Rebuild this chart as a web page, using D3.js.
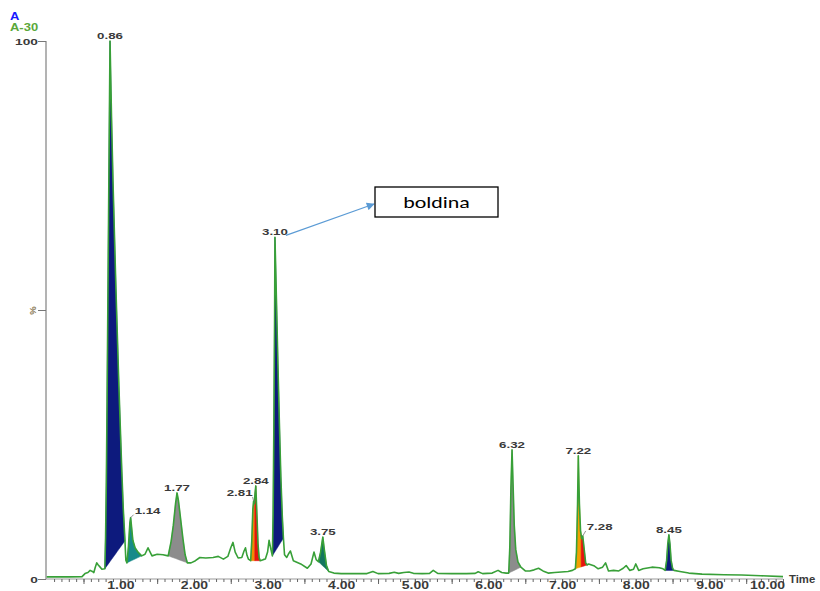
<!DOCTYPE html>
<html><head><meta charset="utf-8">
<script src="https://cdn.jsdelivr.net/npm/d3@7"></script>
<style>body{margin:0;background:#fff;} svg{display:block;font-family:"Liberation Sans",Arial,sans-serif;}</style>
</head><body><svg id="c" width="820" height="591"></svg>
<script>
// ---- data ----
const times = [0.00,0.30,0.48,0.52,0.56,0.59,0.62,0.64,0.66,0.68,0.70,0.72,0.75,0.79,
0.80,0.81,0.82,0.83,0.84,0.85,0.86,0.88,0.90,0.92,0.94,0.96,0.98,1.00,1.02,1.04,1.063,1.075,
1.09,1.11,1.13,1.14,1.15,1.17,1.20,1.24,1.29,1.335,1.376,1.43,1.50,1.58,1.65,
1.69,1.72,1.75,1.77,1.79,1.82,1.85,1.88,1.91,1.96,2.02,2.08,2.16,2.26,2.33,2.40,2.46,2.50,2.53,2.56,2.60,2.65,2.68,2.70,2.72,2.74,2.77,
2.785,2.80,2.81,2.82,2.83,2.84,2.855,2.87,2.885,2.90,2.94,2.97,3.00,3.02,3.045,3.065,
3.075,3.085,3.095,3.10,3.12,3.14,3.16,3.18,3.20,3.215,3.23,3.26,3.29,3.31,3.35,3.45,3.54,3.59,3.63,3.66,3.69,
3.72,3.75,3.77,3.80,3.83,3.90,4.00,4.20,4.35,4.43,4.50,4.65,4.72,4.78,4.85,4.92,4.98,5.10,5.20,5.25,5.31,5.50,5.70,5.82,5.86,5.92,6.05,6.13,6.18,6.24,6.275,
6.29,6.305,6.32,6.335,6.35,6.37,6.40,6.44,6.50,6.56,6.62,6.68,6.74,6.81,6.90,6.99,7.08,7.14,7.18,
7.195,7.21,7.22,7.235,7.25,7.265,7.28,7.30,7.32,7.34,7.36,7.44,7.49,7.55,7.59,7.63,7.70,7.77,7.83,7.87,7.92,7.97,8.00,8.04,8.10,8.22,8.32,8.37,8.40,
8.42,8.435,8.45,8.465,8.48,8.50,8.52,8.60,8.72,8.90,9.20,9.44,9.70,10.00];
const intensities = [0.4,0.4,0.45,1.0,1.2,1.6,1.4,1.2,2.2,3.0,2.6,2.3,1.8,1.9,
8,18,33,50,67,84,100,86,74,64,54,45,36,28,20,13,7.1,3.5,
3.0,6,10.5,11.4,10,7.2,5.8,5.0,4.3,4.6,5.8,4.3,4.6,4.5,4.3,
7,10,14,16.0,14.5,11,7.5,4.5,3.0,3.0,3.4,4.0,3.9,4.0,4.2,3.7,4.2,5.8,6.8,5.0,3.9,4.0,5.2,5.8,4.4,3.7,3.4,
7,13,14.5,14,16,17.3,12,6.5,4,3.4,3.6,3.7,5.0,7.2,5.5,4.3,
12,28,48,63.5,52,40,29,19,11.5,7.6,4.5,4.0,4.8,5.2,3.4,2.8,2.0,2.8,5.0,3.6,3.2,
5,7.8,5.5,2.5,1.4,1.1,1.0,1.0,1.0,1.4,1.0,1.05,1.25,1.05,1.2,1.3,1.05,1.0,1.05,1.6,1.05,1.0,1.0,1.05,1.35,1.0,1.1,1.6,1.2,1.1,1.1,
6,17,24.0,17,10,5.5,3.2,2.2,1.5,1.5,1.7,2.0,1.5,1.1,1.2,1.3,1.4,1.6,1.9,
5,14,22.9,14,9,7.5,8.0,5.5,3.0,2.6,2.8,2.4,1.9,2.2,3.0,1.5,1.6,1.5,2.0,2.5,1.6,1.8,2.8,1.6,1.9,2.2,2.1,1.9,1.6,
3.5,6.5,8.2,6.5,3.5,2.0,1.6,1.4,1.1,0.9,0.8,0.75,0.6,0.45];

const peakLabels = ["0.86","1.14","1.77","2.81","2.84","3.10","3.75","6.32","7.22","7.28","8.45"];
const peakApex   = [0.86,1.14,1.77,2.81,2.84,3.10,3.75,6.32,7.22,7.28,8.45];
const peakStart  = [0.79,1.09,1.65,2.77,2.825,3.065,3.69,6.275,7.18,7.258,8.40];
const peakEnd    = [1.063,1.29,1.91,2.825,2.90,3.215,3.83,6.44,7.258,7.34,8.52];
const baseStart  = [0.79,1.09,1.65,2.77,2.77,3.065,3.69,6.275,7.18,7.18,8.40];
const baseEnd    = [1.063,1.29,1.91,2.90,2.90,3.215,3.83,6.44,7.34,7.34,8.52];
const xTickValues = [1,2,3,4,5,6,7,8,9,10];
const yTickValues = [0,50,100];
const yTickLabels = ["0","%","100"];
const annotationText = "boldina";

// ---- styles ----
const peakColors = ["#0d1a7d","#178a8a","#8c8c8c","#f08c00","#e6140c","#0d1a7d","#13755f","#8c8c8c","#f2a000","#e6140c","#0d1a7d"];

const svg = d3.select("#c");
const x = d3.scaleLinear().domain([0,10]).range([46.7,783]);
const y = d3.scaleLinear().domain([0,100]).range([579,41]);

function val(t){
  let i = d3.bisectLeft(times,t);
  if(i<=0) return intensities[0];
  if(i>=times.length) return intensities[times.length-1];
  if(times[i]===t) return intensities[i];
  const t0=times[i-1],t1=times[i];
  return intensities[i-1]+(intensities[i]-intensities[i-1])*(t-t0)/(t1-t0);
}

// peak fills
const area = d3.area().x(d=>x(d.t)).y0(d=>y(d.b)).y1(d=>y(d.v));
peakLabels.forEach((lab,k)=>{
  const s=peakStart[k], e=peakEnd[k], bs=baseStart[k], be=baseEnd[k];
  const vbs=val(bs), vbe=val(be);
  const base=t=>vbs+(vbe-vbs)*(t-bs)/(be-bs);
  const ts=[s].concat(times.filter(t=>t>s&&t<e)).concat([e]);
  const pts=ts.map(t=>({t, v:val(t), b:base(t)}));
  svg.append("path").attr("d",area(pts)).attr("fill",peakColors[k]).attr("stroke",peakColors[k]).attr("stroke-width",0.5);
});

// axes
const axG = svg.append("g").attr("transform","translate(0,579)");
axG.append("line").attr("x1",46).attr("x2",783).attr("stroke","#9a9a9a").attr("stroke-width",1.2);
const minorAxis = d3.axisBottom(x).tickValues(d3.range(1,100).map(i=>i/10)).tickSize(3).tickFormat("");
const majorAxis = d3.axisBottom(x).tickValues(d3.range(1,21).map(i=>i/2)).tickSize(5).tickFormat("");
const labelAxis = d3.axisBottom(x).tickValues(xTickValues).tickSize(0).tickPadding(3).tickFormat(d3.format(".2f"));
[minorAxis,majorAxis].forEach(a=>{
  const g=axG.append("g").call(a);
  g.select(".domain").remove();
  g.selectAll(".tick line").attr("stroke","#666").attr("stroke-width",1);
});
const lg=axG.append("g").call(labelAxis);
lg.select(".domain").remove();
lg.selectAll(".tick text").attr("font-size",10).attr("font-weight","bold").attr("fill","#3a3a3a")
  .attr("font-family","Liberation Sans, Arial, sans-serif")
  .attr("y",0).attr("dy",9.6).attr("transform","scale(1.4,1)");
// last label kept inside the axis end, as in the reference
lg.selectAll(".tick").filter(d=>d===10).select("text").attr("text-anchor","end").attr("x",1.5/1.4);

const yAxis = d3.axisLeft(y).tickValues(yTickValues).tickSize(8).tickFormat((d,i)=>yTickLabels[i]);
const yg = svg.append("g").attr("transform","translate(46,0)").call(yAxis);
yg.select(".domain").attr("stroke","#9a9a9a").attr("stroke-width",1.5).attr("d","M0,41V579");
yg.selectAll(".tick line").attr("stroke","#777");
yg.selectAll(".tick text").attr("font-size",9.5).attr("font-weight","bold").attr("fill","#3a3a3a")
  .attr("font-family","Liberation Sans, Arial, sans-serif")
  .attr("x",-8/1.45).attr("dy","0.36em").attr("transform","scale(1.45,1)");
yg.selectAll(".tick").filter(d=>d===50).select("text")
  .attr("transform","translate(-13,0) rotate(-90)").attr("x",0).attr("text-anchor","middle").attr("dy","0.35em")
  .attr("font-size",9.5).attr("font-weight","bold").attr("fill","#8a7a55");

// trace
const line = d3.line().x((d,i)=>x(times[i])).y(d=>y(d));
svg.append("path").attr("d",line(intensities)).attr("fill","none").attr("stroke","#38a038").attr("stroke-width",1.6).attr("stroke-linejoin","round");

// text helper
function stext(px,py,str,anchor,size,fill,weight,sx){
  const g=svg.append("g").attr("transform",`translate(${px},${py}) scale(${sx},1)`);
  return g.append("text").attr("text-anchor",anchor).attr("font-size",size).attr("font-weight",weight).attr("fill",fill).text(str);
}

// peak labels
const offsets = {"1.14":[3,-4,"start"],"2.81":[-1,-5,"end"],"7.28":[3,-6,"start"]};
peakLabels.forEach((lab,k)=>{
  const px=x(peakApex[k]), py=y(val(peakApex[k]));
  const o=offsets[lab];
  if(o){
    svg.append("line").attr("x1",px).attr("y1",py).attr("x2",px+o[0]).attr("y2",py+o[1]+1).attr("stroke","#777").attr("stroke-width",0.8);
    stext(px+o[0]+(o[2]==="start"?1:0),py+o[1],lab,o[2],9.5,"#3a3a3a","bold",1.4);
  } else {
    stext(px,py-2,lab,"middle",9.5,"#3a3a3a","bold",1.4);
  }
});

// title labels
stext(10,20,"A","start",10,"#1a1aff","bold",1.3);
stext(10,31,"A-30","start",10,"#5aa83a","bold",1.3);
stext(789,583,"Time","start",10.5,"#3a3a3a","bold",1.08);

// annotation box and arrow
const defs=svg.append("defs");
defs.append("marker").attr("id","ah").attr("viewBox","0 0 10 10").attr("refX",9).attr("refY",5)
  .attr("markerWidth",9).attr("markerHeight",8).attr("orient","auto").attr("markerUnits","userSpaceOnUse")
  .append("path").attr("d","M0,0L10,5L0,10z").attr("fill","#5b9bd5");
const apx=x(3.10), apy=y(val(3.10));
svg.append("line").attr("x1",apx+11).attr("y1",apy-2).attr("x2",374).attr("y2",204)
  .attr("stroke","#5b9bd5").attr("stroke-width",1.1).attr("marker-end","url(#ah)");
svg.append("rect").attr("x",375).attr("y",187).attr("width",123).attr("height",30).attr("fill","#fff").attr("stroke","#000").attr("stroke-width",1.3);
stext(436.5,208,annotationText,"middle",16.5,"#000","normal",1.33).attr("font-family","Carlito, Liberation Sans, Arial, sans-serif");
</script></body></html>
